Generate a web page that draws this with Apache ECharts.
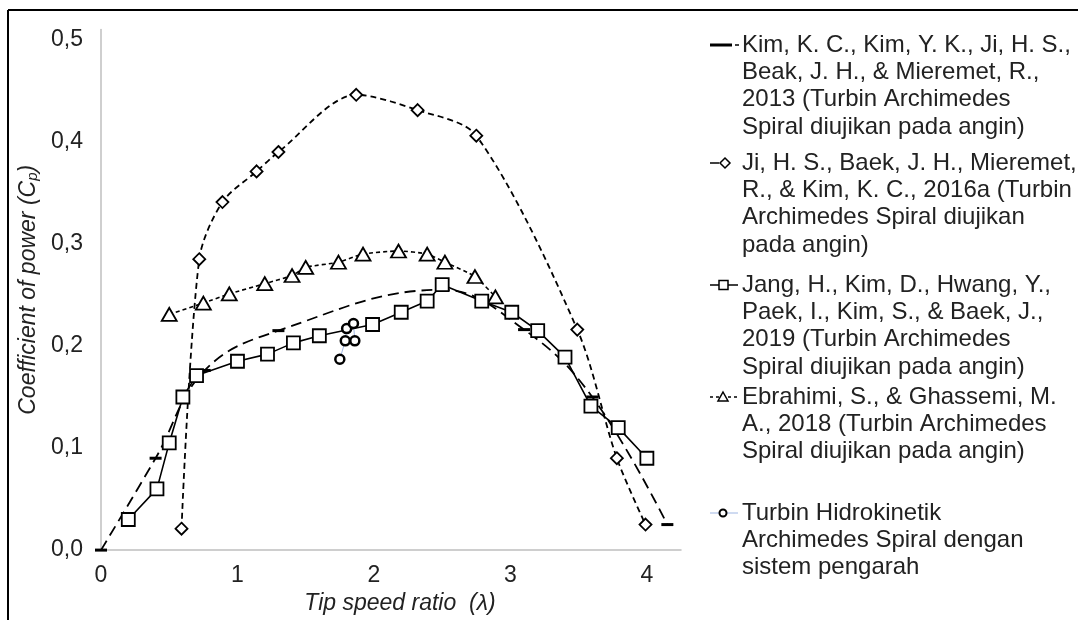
<!DOCTYPE html>
<html>
<head>
<meta charset="utf-8">
<script src="https://cdn.jsdelivr.net/npm/echarts@6/dist/echarts.min.js"></script>
<style>
  html, body { margin: 0; padding: 0; background: #fff; }
  #main { width: 1078px; height: 620px; }
</style>
</head>
<body>
<div id="main"></div>
<script>
// data: [tip speed ratio, Cp]
var kim2013 = [[0, 0], [0.4, 0.09], [0.76, 0.176], [1.3, 0.215], [2.5, 0.255], [3.1, 0.216], [3.6, 0.15], [4.15, 0.025]];
var ji2016a = [[0.59, 0.021], [0.72, 0.285], [0.89, 0.341], [1.14, 0.371], [1.3, 0.39], [1.87, 0.446], [2.32, 0.431], [2.75, 0.406], [3.49, 0.216], [3.78, 0.09], [3.99, 0.025]];
var jang2019 = [[0.2, 0.03], [0.41, 0.06], [0.5, 0.105], [0.6, 0.15], [0.7, 0.171], [1.0, 0.185], [1.22, 0.192], [1.41, 0.203], [1.6, 0.21], [1.99, 0.221], [2.2, 0.233], [2.39, 0.244], [2.5, 0.26], [2.79, 0.244], [3.01, 0.233], [3.2, 0.215], [3.4, 0.189], [3.59, 0.141], [3.79, 0.12], [4.0, 0.09]];
var ebrahimi2018 = [[0.5, 0.231], [0.75, 0.242], [0.94, 0.251], [1.2, 0.261], [1.4, 0.269], [1.5, 0.277], [1.74, 0.282], [1.92, 0.29], [2.18, 0.293], [2.39, 0.29], [2.52, 0.282], [2.74, 0.268], [2.89, 0.248]];
var hidrokinetik = [[1.75, 0.187], [1.79, 0.205], [1.8, 0.217], [1.85, 0.222], [1.86, 0.205]];

var legendTexts = [
  'Kim, K. C., Kim, Y. K., Ji, H. S.,\nBeak, J. H., & Mieremet, R.,\n2013 (Turbin Archimedes\nSpiral diujikan pada angin)',
  'Ji, H. S., Baek, J. H., Mieremet,\nR., & Kim, K. C., 2016a (Turbin\nArchimedes Spiral diujikan\npada angin)',
  'Jang, H., Kim, D., Hwang, Y.,\nPaek, I., Kim, S., & Baek, J.,\n2019 (Turbin Archimedes\nSpiral diujikan pada angin)',
  'Ebrahimi, S., & Ghassemi, M.\nA., 2018 (Turbin Archimedes\nSpiral diujikan pada angin)',
  'Turbin Hidrokinetik\nArchimedes Spiral dengan\nsistem pengarah'
];
var legendTop = [45, 163, 285, 397, 513];

var FONT = "'Liberation Sans', Arial, sans-serif";
var TXT = '#222';

function fmtY(v) {
  var r = Math.round(v * 10);
  if (Math.abs(v * 10 - r) > 1e-6) return '';
  return (r / 10).toFixed(1).replace('.', ',');
}

// legend drawn by hand so the symbol sits on the first text line
function legendItem(i) {
  var y = legendTop[i];
  var kids = [];
  var lineW = 1.5, dash = null, lineCol = '#000', x1 = 0, x2 = 28;
  if (i === 0) { kids.push({ type: 'rect', shape: { x: 0, y: -1.5, width: 22, height: 3 }, style: { fill: '#000' } }); x1 = 25; x2 = 29; }
  if (i === 1) { x2 = 9; }
  if (i === 3) { dash = [3, 3]; }
  if (i === 4) { lineCol = '#9fb6e3'; lineW = 1; }
  kids.push({ type: 'line', shape: { x1: x1, y1: 0, x2: x2, y2: 0 }, style: { stroke: lineCol, lineWidth: lineW, lineDash: dash } });
  var sym = { fill: '#fff', stroke: '#000', lineWidth: 1.5 };
  if (i === 1) kids.push({ type: 'polygon', shape: { points: [[15, -5], [20, 0], [15, 5], [10, 0]] }, style: sym, z: 2 });
  if (i === 2) kids.push({ type: 'rect', shape: { x: 9, y: -4.5, width: 9, height: 9 }, style: sym, z: 2 });
  if (i === 3) kids.push({ type: 'polygon', shape: { points: [[13, -5], [18, 4], [8, 4]] }, style: sym, z: 2 });
  if (i === 4) kids.push({ type: 'circle', shape: { cx: 13, cy: 0, r: 3.5 }, style: { fill: '#fff', stroke: '#000', lineWidth: 2 }, z: 2 });
  kids.push({
    type: 'text', x: 32, y: -13.5,
    style: { text: legendTexts[i], font: '24px ' + FONT, fill: TXT, lineHeight: 27.3, verticalAlign: 'top' }
  });
  return { type: 'group', x: 710, y: y, children: kids };
}

var graphics = [
  { type: 'line', shape: { x1: 8, y1: 10, x2: 1078, y2: 10 }, style: { stroke: '#000', lineWidth: 2 } },
  { type: 'line', shape: { x1: 8, y1: 10, x2: 8, y2: 620 }, style: { stroke: '#000', lineWidth: 2 } }
];
for (var i = 0; i < legendTexts.length; i++) graphics.push(legendItem(i));

var openSym = { color: '#fff', borderColor: '#000', borderWidth: 1.8 };

var option = {
  animation: false,
  backgroundColor: '#fff',
  textStyle: { fontFamily: FONT },
  grid: { left: 101, right: 397, top: 29.5, bottom: 65 },
  xAxis: {
    type: 'value', min: 0, max: 4.25, interval: 1,
    name: 'Tip speed ratio  (λ)', nameLocation: 'middle', nameGap: 39,
    nameTextStyle: { fontSize: 23, fontStyle: 'italic', color: TXT, padding: [0, 0, 0, 18] },
    axisLine: { show: true, lineStyle: { color: '#bfbfbf', width: 1.5 } },
    axisTick: { show: false },
    splitLine: { show: false },
    axisLabel: { fontSize: 23, color: TXT, margin: 14, formatter: function (v) { return v % 1 === 0 ? String(v) : ''; } }
  },
  yAxis: {
    type: 'value', min: 0, max: 0.51, interval: 0.1,
    name: '{n|Coefficient of power (C}{s|p}{n|)}', nameLocation: 'middle', nameGap: 52, nameRotate: 90,
    nameTextStyle: {
      color: TXT,
      rich: {
        n: { fontSize: 23, fontStyle: 'italic', color: TXT, fontFamily: FONT },
        s: { fontSize: 15, fontStyle: 'italic', color: TXT, fontFamily: FONT, verticalAlign: 'bottom', padding: [8, 0, 0, 0] }
      }
    },
    axisLine: { show: true, lineStyle: { color: '#bfbfbf', width: 1.5 } },
    axisTick: { show: false },
    splitLine: { show: false },
    axisLabel: { fontSize: 23, color: TXT, margin: 18, formatter: fmtY }
  },
  series: [
    {
      name: 'Kim 2013', type: 'line', data: kim2013, smooth: 0.4,
      symbol: 'rect', symbolSize: [12, 3], itemStyle: { color: '#000' },
      lineStyle: { color: '#000', width: 1.8, type: [11, 6] }, z: 3
    },
    {
      name: 'Ji 2016a', type: 'line', data: ji2016a, smooth: 0.3,
      symbol: 'diamond', symbolSize: [12, 12], itemStyle: openSym,
      lineStyle: { color: '#000', width: 1.8, type: [6, 4] }, z: 2
    },
    {
      name: 'Jang 2019', type: 'line', data: jang2019,
      symbol: 'rect', symbolSize: 13, itemStyle: openSym,
      lineStyle: { color: '#000', width: 1.6 }, z: 4
    },
    {
      name: 'Ebrahimi 2018', type: 'line', data: ebrahimi2018, smooth: 0.2,
      symbol: 'triangle', symbolSize: [15, 13], itemStyle: openSym,
      lineStyle: { color: '#000', width: 1.6, type: [4, 3] }, z: 2
    },
    {
      name: 'Hidrokinetik', type: 'line', data: hidrokinetik,
      symbol: 'circle', symbolSize: 9, itemStyle: { color: '#fff', borderColor: '#000', borderWidth: 2.5 },
      lineStyle: { color: '#9fb6e3', width: 1 }, z: 5
    }
  ],
  graphic: graphics
};

var myChart = echarts.init(document.getElementById('main'));
myChart.setOption(option);
</script>
</body>
</html>
